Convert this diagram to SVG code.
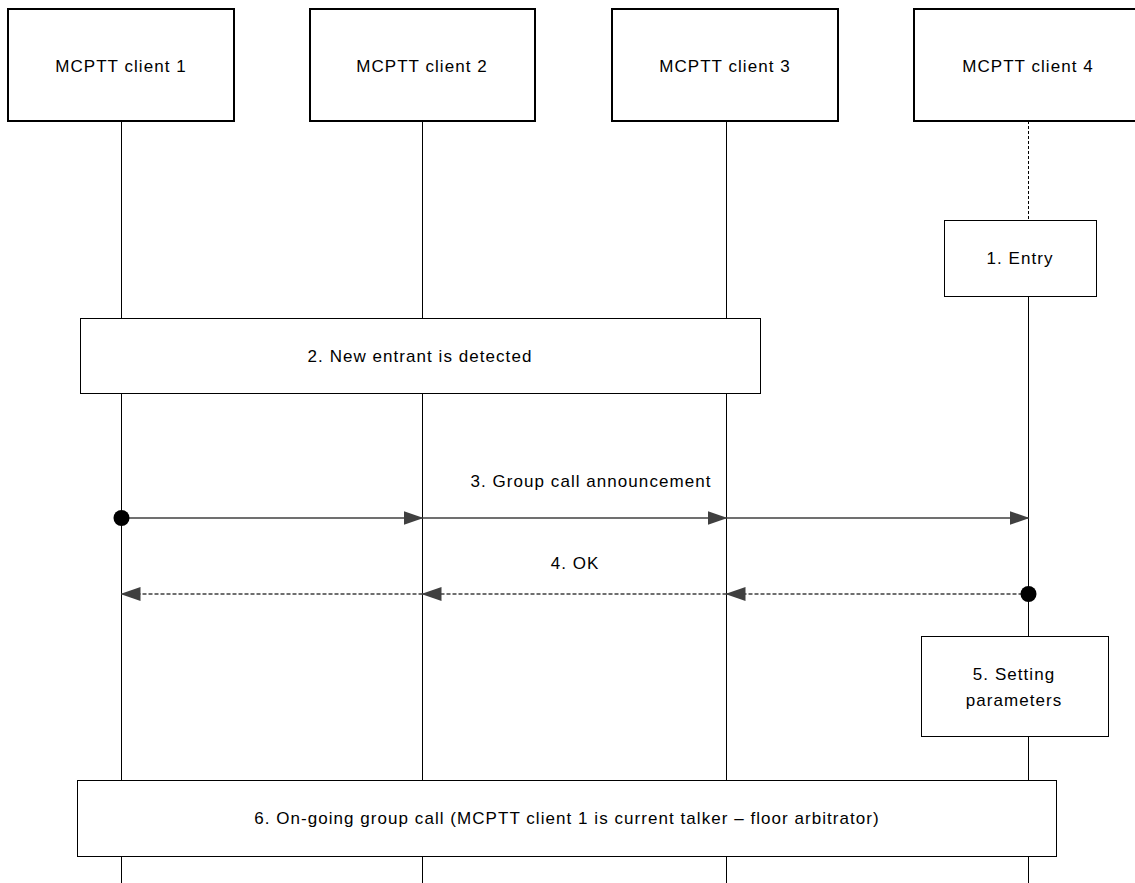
<svg xmlns="http://www.w3.org/2000/svg" width="1135" height="883" viewBox="0 0 1135 883">
<defs>
<style>
.box{fill:#fff;stroke:#000;stroke-width:1}
.hbox{fill:#fff;stroke:#000;stroke-width:2}
.life{stroke:#000;stroke-width:1;fill:none}
.msg{stroke:#404040;stroke-width:1.3;fill:none}
.dash{stroke-dasharray:4,2}
text{font-family:"Liberation Sans",Arial,sans-serif;font-size:17px;fill:#000;text-anchor:middle;letter-spacing:1.05px}
</style>
<marker id="arr" markerWidth="20" markerHeight="14" refX="19" refY="7" orient="auto" markerUnits="userSpaceOnUse">
<path d="M0,0 L20,7 L0,14 z" fill="#404040"/>
</marker>
<marker id="dot" markerWidth="18" markerHeight="18" refX="9" refY="9" markerUnits="userSpaceOnUse">
<circle cx="9" cy="9" r="8" fill="#000"/>
</marker>
</defs>
<g id="lifelines">
<line class="life" x1="121.5" y1="121" x2="121.5" y2="883"/>
<line class="life" x1="422.5" y1="121" x2="422.5" y2="883"/>
<line class="life" x1="726.5" y1="121" x2="726.5" y2="883"/>
<line class="life" x1="1028.5" y1="121" x2="1028.5" y2="220" stroke-dasharray="3,2"/>
<line class="life" x1="1028.5" y1="296" x2="1028.5" y2="883"/>
</g>
<g id="client1"><rect class="hbox" x="8" y="9" width="226" height="112"/><text x="121" y="72">MCPTT client 1</text></g>
<g id="client2"><rect class="hbox" x="310" y="9" width="225" height="112"/><text x="422" y="72">MCPTT client 2</text></g>
<g id="client3"><rect class="hbox" x="612" y="9" width="226" height="112"/><text x="725" y="72">MCPTT client 3</text></g>
<g id="client4"><rect class="hbox" x="914" y="9" width="230" height="112"/><text x="1028" y="72">MCPTT client 4</text></g>
<g id="step1"><rect class="box" x="944.5" y="220.5" width="152" height="76"/><text x="1020" y="264">1. Entry</text></g>
<g id="step2"><rect class="box" x="80.5" y="318.5" width="680" height="75"/><text x="420" y="362">2. New entrant is detected</text></g>
<g id="step5"><rect class="box" x="921.5" y="636.5" width="187" height="100"/><text x="1014" y="680">5. Setting</text><text x="1014" y="706">parameters</text></g>
<g id="step6"><rect class="box" x="77.5" y="780.5" width="979" height="76"/><text x="567" y="824">6. On-going group call (MCPTT client 1 is current talker – floor arbitrator)</text></g>
<g id="connectors">
<line class="msg" x1="121.5" y1="518" x2="422.5" y2="518" marker-start="url(#dot)" marker-end="url(#arr)"/>
<line class="msg" x1="422.5" y1="518" x2="726.5" y2="518" marker-end="url(#arr)"/>
<line class="msg" x1="726.5" y1="518" x2="1028.5" y2="518" marker-end="url(#arr)"/>
<text x="591" y="487">3. Group call announcement</text>
<line class="msg dash" x1="1028.5" y1="594" x2="726.5" y2="594" marker-start="url(#dot)" marker-end="url(#arr)"/>
<line class="msg dash" x1="726.5" y1="594" x2="422.5" y2="594" marker-end="url(#arr)"/>
<line class="msg dash" x1="422.5" y1="594" x2="121.5" y2="594" marker-end="url(#arr)"/>
<text x="575" y="569">4. OK</text>
</g>
</svg>
